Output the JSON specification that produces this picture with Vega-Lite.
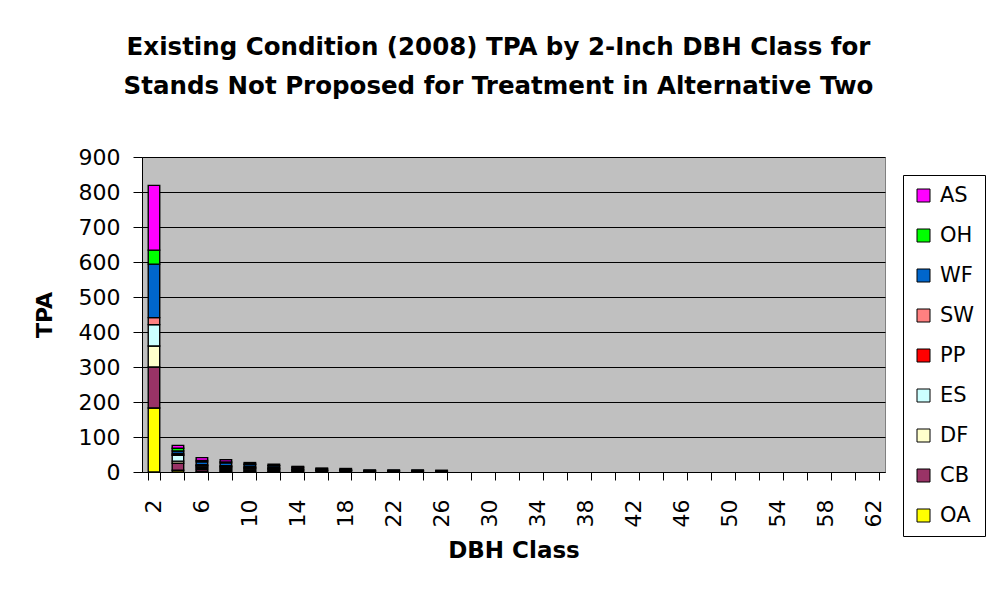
{
  "$schema": "https://vega.github.io/schema/vega-lite/v6.json",
  "autosize": "none",
  "width": 743,
  "height": 315,
  "padding": {"left": 142, "top": 157, "right": 112, "bottom": 120},
  "background": "white",
  "title": {
    "text": ["Existing Condition (2008) TPA by 2-Inch DBH Class for", "Stands Not Proposed for Treatment in Alternative Two"],
    "font": "DejaVu Sans",
    "fontSize": 24.5,
    "fontWeight": "bold",
    "anchor": "middle",
    "frame": "group",
    "dx": -15,
    "offset": 47,
    "lineHeight": 39,
    "color": "black"
  },
  "data": {
    "values": [
      {"dbh": 2, "species": "OA", "tpa": 183},
      {"dbh": 2, "species": "CB", "tpa": 117},
      {"dbh": 2, "species": "DF", "tpa": 60},
      {"dbh": 2, "species": "ES", "tpa": 61},
      {"dbh": 2, "species": "PP", "tpa": 0},
      {"dbh": 2, "species": "SW", "tpa": 20},
      {"dbh": 2, "species": "WF", "tpa": 153},
      {"dbh": 2, "species": "OH", "tpa": 40},
      {"dbh": 2, "species": "AS", "tpa": 185},
      {"dbh": 4, "species": "OA", "tpa": 5},
      {"dbh": 4, "species": "CB", "tpa": 20},
      {"dbh": 4, "species": "DF", "tpa": 6},
      {"dbh": 4, "species": "ES", "tpa": 17},
      {"dbh": 4, "species": "PP", "tpa": 1},
      {"dbh": 4, "species": "SW", "tpa": 4},
      {"dbh": 4, "species": "WF", "tpa": 7},
      {"dbh": 4, "species": "OH", "tpa": 8},
      {"dbh": 4, "species": "AS", "tpa": 8},
      {"dbh": 6, "species": "OA", "tpa": 2},
      {"dbh": 6, "species": "CB", "tpa": 6},
      {"dbh": 6, "species": "DF", "tpa": 4},
      {"dbh": 6, "species": "ES", "tpa": 5},
      {"dbh": 6, "species": "PP", "tpa": 1},
      {"dbh": 6, "species": "SW", "tpa": 3},
      {"dbh": 6, "species": "WF", "tpa": 8},
      {"dbh": 6, "species": "OH", "tpa": 4},
      {"dbh": 6, "species": "AS", "tpa": 8},
      {"dbh": 8, "species": "OA", "tpa": 2},
      {"dbh": 8, "species": "CB", "tpa": 4},
      {"dbh": 8, "species": "DF", "tpa": 4},
      {"dbh": 8, "species": "ES", "tpa": 4},
      {"dbh": 8, "species": "PP", "tpa": 1},
      {"dbh": 8, "species": "SW", "tpa": 3},
      {"dbh": 8, "species": "WF", "tpa": 8},
      {"dbh": 8, "species": "OH", "tpa": 3},
      {"dbh": 8, "species": "AS", "tpa": 6},
      {"dbh": 10, "species": "OA", "tpa": 1},
      {"dbh": 10, "species": "CB", "tpa": 3},
      {"dbh": 10, "species": "DF", "tpa": 4},
      {"dbh": 10, "species": "ES", "tpa": 3},
      {"dbh": 10, "species": "PP", "tpa": 1},
      {"dbh": 10, "species": "SW", "tpa": 3},
      {"dbh": 10, "species": "WF", "tpa": 6},
      {"dbh": 10, "species": "OH", "tpa": 2},
      {"dbh": 10, "species": "AS", "tpa": 4},
      {"dbh": 12, "species": "OA", "tpa": 1},
      {"dbh": 12, "species": "CB", "tpa": 2},
      {"dbh": 12, "species": "DF", "tpa": 4},
      {"dbh": 12, "species": "ES", "tpa": 2},
      {"dbh": 12, "species": "PP", "tpa": 1},
      {"dbh": 12, "species": "SW", "tpa": 3},
      {"dbh": 12, "species": "WF", "tpa": 5},
      {"dbh": 12, "species": "OH", "tpa": 1},
      {"dbh": 12, "species": "AS", "tpa": 3},
      {"dbh": 14, "species": "CB", "tpa": 1},
      {"dbh": 14, "species": "DF", "tpa": 3},
      {"dbh": 14, "species": "ES", "tpa": 2},
      {"dbh": 14, "species": "PP", "tpa": 1},
      {"dbh": 14, "species": "SW", "tpa": 2},
      {"dbh": 14, "species": "WF", "tpa": 4},
      {"dbh": 14, "species": "OH", "tpa": 1},
      {"dbh": 14, "species": "AS", "tpa": 2},
      {"dbh": 16, "species": "DF", "tpa": 3},
      {"dbh": 16, "species": "ES", "tpa": 1},
      {"dbh": 16, "species": "PP", "tpa": 1},
      {"dbh": 16, "species": "SW", "tpa": 2},
      {"dbh": 16, "species": "WF", "tpa": 3},
      {"dbh": 16, "species": "AS", "tpa": 1},
      {"dbh": 18, "species": "DF", "tpa": 3},
      {"dbh": 18, "species": "ES", "tpa": 1},
      {"dbh": 18, "species": "PP", "tpa": 1},
      {"dbh": 18, "species": "SW", "tpa": 2},
      {"dbh": 18, "species": "WF", "tpa": 3},
      {"dbh": 20, "species": "DF", "tpa": 2},
      {"dbh": 20, "species": "PP", "tpa": 1},
      {"dbh": 20, "species": "SW", "tpa": 1},
      {"dbh": 20, "species": "WF", "tpa": 2},
      {"dbh": 22, "species": "DF", "tpa": 2},
      {"dbh": 22, "species": "PP", "tpa": 1},
      {"dbh": 22, "species": "SW", "tpa": 1},
      {"dbh": 22, "species": "WF", "tpa": 2},
      {"dbh": 24, "species": "DF", "tpa": 2},
      {"dbh": 24, "species": "PP", "tpa": 1},
      {"dbh": 24, "species": "SW", "tpa": 1},
      {"dbh": 24, "species": "WF", "tpa": 2},
      {"dbh": 26, "species": "DF", "tpa": 2},
      {"dbh": 26, "species": "PP", "tpa": 1},
      {"dbh": 26, "species": "WF", "tpa": 2}
    ]
  },
  "transform": [
    {"window": [{"op": "row_number", "as": "stackOrder"}]}
  ],
  "mark": {"type": "bar", "stroke": "black", "strokeWidth": 1.4, "opacity": 1},
  "encoding": {
    "x": {
      "field": "dbh",
      "type": "ordinal",
      "scale": {
        "domain": [2,4,6,8,10,12,14,16,18,20,22,24,26,28,30,32,34,36,38,40,42,44,46,48,50,52,54,56,58,60,62],
        "paddingInner": 0.52,
        "paddingOuter": 0.26
      },
      "axis": {
        "title": "DBH Class",
        "titleFont": "DejaVu Sans",
        "titleFontSize": 23,
        "titleFontWeight": "bold",
        "titleColor": "black",
        "titlePadding": 13,
        "labelFont": "DejaVu Sans",
        "labelFontSize": 22,
        "labelColor": "black",
        "labelAngle": 270,
        "labelAlign": "right",
        "labelBaseline": "middle",
        "labelPadding": 19,
        "labelOverlap": false,
        "labelExpr": "(datum.value - 2) % 4 == 0 ? datum.label : ''",
        "tickBand": "extent",
        "tickSize": 8,
        "tickColor": "black",
        "domainColor": "black",
        "grid": false
      }
    },
    "y": {
      "field": "tpa",
      "type": "quantitative",
      "stack": "zero",
      "scale": {"domain": [0, 900], "nice": false},
      "axis": {
        "title": "TPA",
        "titleFont": "DejaVu Sans",
        "titleFontSize": 22,
        "titleFontWeight": "bold",
        "titleColor": "black",
        "titlePadding": 22,
        "labelFont": "DejaVu Sans",
        "labelFontSize": 22,
        "labelColor": "black",
        "labelPadding": 13,
        "values": [0,100,200,300,400,500,600,700,800,900],
        "tickSize": 9,
        "tickColor": "black",
        "domainColor": "black",
        "grid": true,
        "gridColor": "black",
        "gridWidth": 1
      }
    },
    "order": {"field": "stackOrder", "type": "quantitative"},
    "color": {
      "field": "species",
      "type": "nominal",
      "scale": {
        "domain": ["OA","CB","DF","ES","PP","SW","WF","OH","AS"],
        "range": ["#FFFF00","#993366","#FFFFCC","#CCFFFF","#FF0000","#FF8080","#0066CC","#00FF00","#FF00FF"]
      },
      "legend": {
        "title": null,
        "values": ["AS","OH","WF","SW","PP","ES","DF","CB","OA"],
        "orient": "none",
        "legendX": 761,
        "legendY": 18,
        "padding": 10,
        "strokeColor": "#000000",
        "fillColor": "white",
        "symbolType": "square",
        "symbolSize": 169,
        "symbolStrokeColor": "black",
        "symbolStrokeWidth": 1,
        "symbolOpacity": 1,
        "labelFont": "DejaVu Sans",
        "labelFontSize": 21,
        "labelColor": "black",
        "labelOffset": 6,
        "rowPadding": 18,
        "labelLimit": 100
      }
    }
  },
  "config": {
    "view": {"fill": "#C0C0C0", "stroke": "#808080", "strokeWidth": 1}
  }
}
